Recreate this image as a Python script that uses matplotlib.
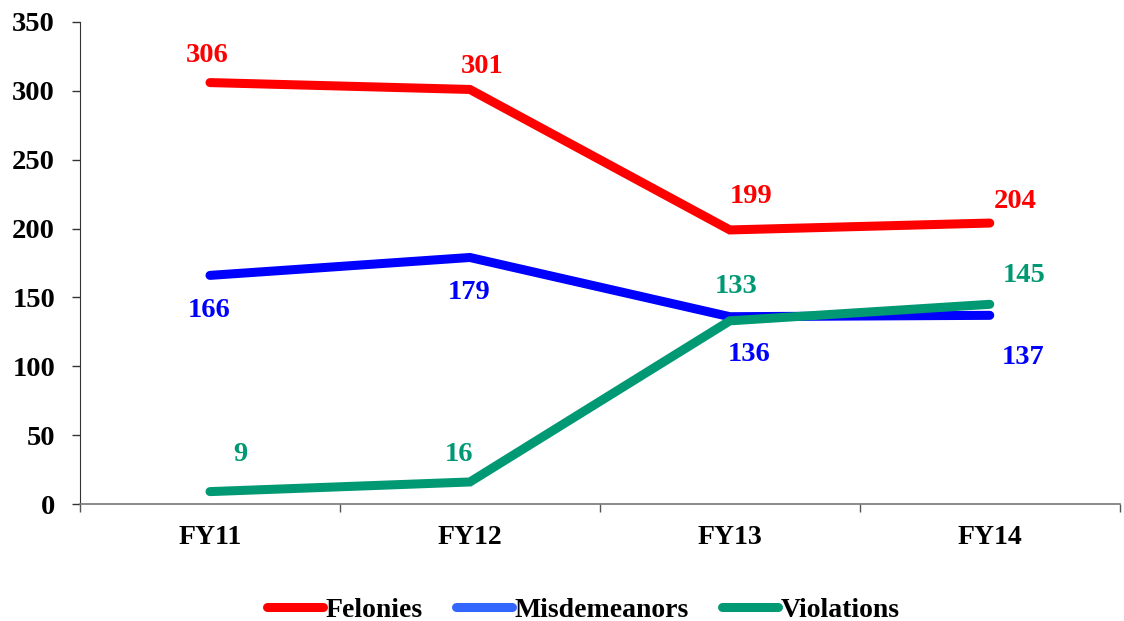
import numpy as np
import matplotlib
matplotlib.use("Agg")
import matplotlib.pyplot as plt
from matplotlib.lines import Line2D

plt.rcParams['font.family'] = ['Liberation Serif', 'DejaVu Serif']
plt.rcParams['font.weight'] = 'bold'

# Data
years = ["FY11", "FY12", "FY13", "FY14"]
felonies = [306, 301, 199, 204]
misdemeanors = [166, 179, 136, 137]
violations = [9, 16, 133, 145]

RED = "#FF0000"
BLUE = "#0000FF"
BLUE_LEG = "#3366FF"
GREEN = "#009973"

fig = plt.figure(figsize=(11.24, 6.21), dpi=100)
ax = fig.add_axes([0.0712, 0.1884, 0.925, 0.7762])
x = np.arange(len(years))

ax.plot(x, felonies, color=RED, lw=6.5, solid_capstyle='round', solid_joinstyle='miter', zorder=3)
ax.plot(x, misdemeanors, color=BLUE, lw=6.5, solid_capstyle='round', solid_joinstyle='miter', zorder=3)
ax.plot(x, violations, color=GREEN, lw=6.5, solid_capstyle='round', solid_joinstyle='miter', zorder=4)

# label offsets in pixels (dx, dy) per point
fel_off = [(-3, 27), (12, 23), (21, 33), (25, 22)]
mis_off = [(-1, -35), (-1, -35), (19, -38), (33, -42)]
vio_off = [(30, 37), (-11, 27), (6, 34), (34, 29)]

for series, offs, col in [(felonies, fel_off, RED), (misdemeanors, mis_off, BLUE),
                          (violations, vio_off, GREEN)]:
    for xi, v, (dx, dy) in zip(x, series, offs):
        ax.annotate(str(v), (xi, v), xytext=(dx * 0.72, dy * 0.72), textcoords='offset points',
                    ha='center', va='center', color=col, fontsize=20.5, fontweight='bold')

ax.set_xlim(-0.5, 3.5)
ax.set_ylim(0, 350)
ax.set_yticks(np.arange(0, 351, 50))
ax.set_xticks(x)
ax.set_xticklabels(years, fontsize=20, fontweight='bold')
ax.set_xticks(np.arange(-0.5, 3.6, 1), minor=True)
ax.tick_params(axis='x', which='major', length=0, pad=15)
ax.tick_params(axis='x', which='minor', length=6, width=1, color='#555555', direction='out')
ax.tick_params(axis='y', length=6, width=1, color='#333333', labelsize=20.5, pad=12)
for lab in ax.get_yticklabels():
    lab.set_fontweight('bold')

for s in ['top', 'right']:
    ax.spines[s].set_visible(False)
ax.spines['left'].set_color('#333333')
ax.spines['bottom'].set_color('#777777')
ax.spines['bottom'].set_linewidth(1.2)

handles = [Line2D([0], [0], color=RED, lw=6.5, solid_capstyle='round'),
           Line2D([0], [0], color=BLUE_LEG, lw=6.5, solid_capstyle='round'),
           Line2D([0], [0], color=GREEN, lw=6.5, solid_capstyle='round')]
fig.legend(handles, ["Felonies", "Misdemeanors", "Violations"], loc='center',
           bbox_to_anchor=(0.519, 0.017), ncol=3, frameon=False,
           handlelength=2.0, handletextpad=0.1, columnspacing=1.2,
           prop={'weight': 'bold', 'size': 20}, borderpad=0)

fig.savefig("out.png", dpi=100)
